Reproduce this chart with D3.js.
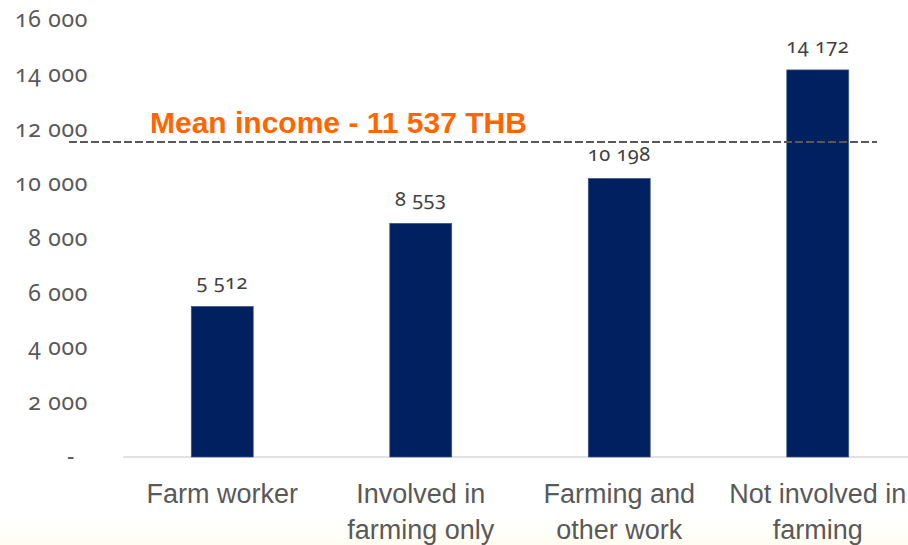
<!DOCTYPE html>
<html>
<head>
<meta charset="utf-8">
<script src="https://cdn.jsdelivr.net/npm/d3@7"></script>
<style>
  html, body { margin: 0; padding: 0; background: #ffffff; }
  svg { display: block; }
</style>
</head>
<body>
<svg id="chart" width="908" height="545"></svg>
<script>
// Monthly income by farming category (THB)
const categories = [
  ["Farm worker"],
  ["Involved in", "farming only"],
  ["Farming and", "other work"],
  ["Not involved in", "farming"]
];
const incomes = [5512, 8553, 10198, 14172];
const meanIncome = 11537;
const yTicks = [0, 2000, 4000, 6000, 8000, 10000, 12000, 14000, 16000];

const W = 908, H = 545;
const svg = d3.select("#chart");

// faint warm band along the bottom edge
const defs = svg.append("defs");
const grad = defs.append("linearGradient")
  .attr("id", "bottomBand").attr("x1", 0).attr("y1", 0).attr("x2", 0).attr("y2", 1);
grad.append("stop").attr("offset", "0%").attr("stop-color", "#ffffff");
grad.append("stop").attr("offset", "45%").attr("stop-color", "#fffffa");
grad.append("stop").attr("offset", "100%").attr("stop-color", "#fffdf0");
svg.append("rect").attr("x", 0).attr("y", 518).attr("width", W).attr("height", 27)
  .attr("fill", "url(#bottomBand)");

// thousands separated by a space
const fmt = n => d3.format(",")(n).replace(/,/g, " ");

const x = d3.scaleBand()
  .domain(d3.range(categories.length))
  .range([123, 917])
  .paddingInner(0.688)
  .paddingOuter(0.344);

const y = d3.scaleLinear().domain([0, 16000]).range([457, 20]);

// y tick labels (no axis line)
const yAxis = d3.axisLeft(y)
  .tickValues(yTicks)
  .tickSize(0)
  .tickPadding(0)
  .tickFormat(d => d === 0 ? "-" : fmt(d));
const gy = svg.append("g").attr("transform", "translate(88,0)").call(yAxis);
gy.select(".domain").remove();
gy.selectAll("text")
  .attr("fill", "#595959")
  .attr("font-family", "'Noto Sans', 'Open Sans', sans-serif")
  .attr("font-size", 23)
  .style("font-variant-numeric", "oldstyle-nums")
  .attr("letter-spacing", 0.7)
  .attr("dy", "0.3em")
  .attr("dx", d => d === 0 ? -13 : 0);

// category axis
const xAxis = d3.axisBottom(x).tickSize(0).tickFormat("");
const gx = svg.append("g").attr("transform", "translate(0,457)").call(xAxis);
gx.select(".domain").remove();
svg.append("line")
  .attr("x1", 123).attr("x2", W)
  .attr("y1", y(0)).attr("y2", y(0))
  .attr("stroke", "#d9d9d9").attr("stroke-width", 1.6);

// bars
svg.append("g").selectAll("rect")
  .data(incomes)
  .join("rect")
  .attr("x", (d, i) => x(i))
  .attr("y", d => y(d))
  .attr("width", x.bandwidth())
  .attr("height", d => y(0) - y(d))
  .attr("fill", "#002060")
  .attr("stroke", "#3d5689")
  .attr("stroke-width", 0.7);

// value labels
svg.append("g").selectAll("text")
  .data(incomes)
  .join("text")
  .attr("x", (d, i) => x(i) + x.bandwidth() / 2)
  .attr("y", d => y(d) - 17)
  .attr("text-anchor", "middle")
  .attr("fill", "#404040")
  .attr("font-family", "'Noto Sans', 'Open Sans', sans-serif")
  .attr("font-size", 20)
  .style("font-variant-numeric", "oldstyle-nums")
  .attr("letter-spacing", 0.5)
  .text(d => fmt(d));

// category labels, two lines each
const cat = svg.append("g").selectAll("text")
  .data(categories)
  .join("text")
  .attr("x", (d, i) => x(i) + x.bandwidth() / 2)
  .attr("y", 503)
  .attr("text-anchor", "middle")
  .attr("fill", "#595959")
  .attr("font-family", "'Liberation Sans', Arial, sans-serif")
  .attr("font-size", 27);
cat.selectAll("tspan")
  .data(d => d)
  .join("tspan")
  .attr("x", function () { return d3.select(this.parentNode).attr("x"); })
  .attr("dy", (d, j) => j === 0 ? 0 : 36)
  .text(d => d);

// mean income reference line
svg.append("line")
  .attr("x1", 69).attr("x2", 877)
  .attr("y1", y(meanIncome)).attr("y2", y(meanIncome))
  .attr("stroke", "#595959")
  .attr("stroke-width", 2)
  .attr("stroke-dasharray", "8,3");

svg.append("text")
  .attr("x", 150)
  .attr("y", y(meanIncome) - 9)
  .attr("fill", "#ff6600")
  .attr("font-family", "'Liberation Sans', Arial, sans-serif")
  .attr("font-weight", "bold")
  .attr("font-size", 30)
  .text("Mean income - " + fmt(meanIncome) + " THB");
</script>
</body>
</html>
